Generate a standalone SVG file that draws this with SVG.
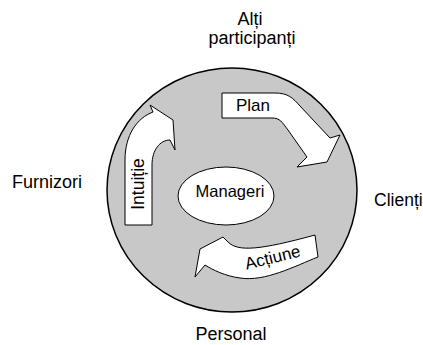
<svg xmlns="http://www.w3.org/2000/svg" width="423" height="345" viewBox="0 0 423 345">
<style>
text{font-family:"Liberation Sans",Arial,sans-serif;font-size:18px;fill:#000}
.c{text-anchor:middle}
.in{font-size:17px}
.arrow{fill:#fff;stroke:#000;stroke-width:1}
</style>
<rect width="423" height="345" fill="#fff"/>
<g id="circle"><ellipse cx="232" cy="190" rx="125" ry="122" fill="#c8c8c8" stroke="#000" stroke-width="1.5"/></g>
<g id="manageri"><ellipse cx="226" cy="196" rx="48" ry="29" fill="#fff" stroke="#000" stroke-width="1"/><text class="c" x="230" y="197" style="font-size:16.5px">Manageri</text></g>
<g id="connectors">
<g id="intuitie"><path class="arrow" d="M125,225 L125,160 C125,135 137,118 153,112 L150,105 L173,120 L175,150 L170,140 C160,140 152,150 152,165 L152,225 Z"/><text class="c in" transform="translate(144,184) rotate(-90)" style="font-size:17.5px">Intuiție</text></g>
<g id="plan"><path class="arrow" d="M222,93 L275,93 C288,93 293,98 300,106 L330,138 L340,135 L327,162 L297,167 L307,157 L288,130 C282,122 280,118 272,118 L222,118 Z"/><text class="c in" x="253" y="111">Plan</text></g>
<g id="actiune"><path class="arrow" d="M315,235 L318,257 C295,266 265,282 240,278 C225,276 213,270 205,265 L195,277 L200,249 L223,237 L228,242 C238,252 260,250 315,235 Z"/><text class="c in" transform="translate(274,263) rotate(-14)">Acțiune</text></g>
</g>
<g id="alti"><text class="c" x="250" y="25">Alți</text><text class="c" x="252" y="44">participanți</text></g>
<g id="furnizori"><text x="12" y="188">Furnizori</text></g>
<g id="clienti"><text x="374" y="206" style="font-size:17.5px">Clienți</text></g>
<g id="personal"><text class="c" x="231" y="340">Personal</text></g>
</svg>
